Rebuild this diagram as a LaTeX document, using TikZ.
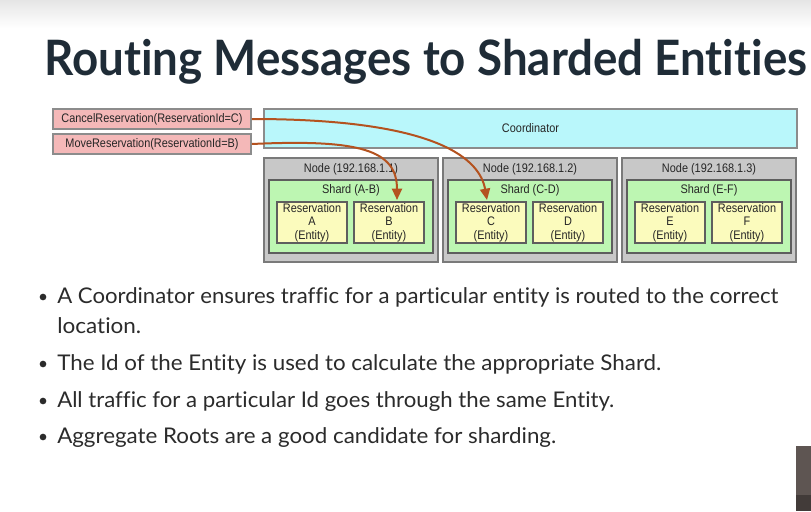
\documentclass[tikz,border=0pt]{standalone}
\usepackage{fontspec}
\setmainfont[Ligatures=NoCommon]{Lato}
\newfontfamily\diafont[FakeStretch=0.88]{Liberation Sans}
\usepackage{graphicx}
\usetikzlibrary{fit,calc,arrows.meta}
\definecolor{titlec}{HTML}{1F2C37}
\definecolor{bodyc}{HTML}{2B2B2B}
\definecolor{msgpink}{HTML}{F4B8B8}
\definecolor{msgline}{HTML}{8C8C8C}
\definecolor{coordfill}{HTML}{B9F7FB}
\definecolor{hostfill}{HTML}{C8C8C8}
\definecolor{hostline}{HTML}{7A7A7A}
\definecolor{shardfill}{HTML}{BDF6B2}
\definecolor{innerline}{HTML}{5E5E5E}
\definecolor{entfill}{HTML}{FBFBBD}
\definecolor{flowc}{HTML}{B4521F}
\definecolor{camc}{HTML}{5E5552}
\begin{document}
\begin{tikzpicture}[x=0.75pt,y=-0.75pt,
  msgbox/.style={draw=msgline, line width=1.3pt, fill=msgpink, inner sep=0pt},
  coordbox/.style={draw=msgline, line width=1.3pt, fill=coordfill, inner sep=0pt},
  hostbox/.style={draw=hostline, line width=1.6pt, fill=hostfill, inner sep=0pt},
  shardbox/.style={draw=innerline, line width=1.5pt, fill=shardfill, inner sep=0pt},
  entbox/.style={draw=innerline, line width=1.5pt, fill=entfill, inner sep=0pt},
  dtext/.style={font=\diafont\fontsize{9.3}{10}\selectfont, inner sep=0pt, text=black!85, align=center},
  flow/.style={draw=flowc, line width=1.5pt, -{Triangle[length=8.5pt,width=7.5pt]}},
  title/.style={anchor=base west, inner sep=0pt, text=titlec, font=\fontsize{36.6}{40}\selectfont\bfseries},
  bodyline/.style={anchor=base west, inner sep=0pt, text=bodyc, font=\fontsize{16.2}{20}\selectfont},
  dot/.style={circle, fill=bodyc, inner sep=0pt, minimum size=5pt}
]
% background
\fill[white] (0,0) rectangle (811,511);
\shade[top color=black!10, bottom color=white] (0,0) rectangle (811,28);
\fill[camc] (796,446) rectangle (811,511);
\fill[camc!70!black] (796,495) rectangle (811,511);

% title
\node[title] (ttl) at (44,75) {\resizebox{572.25pt}{\height}{Routing Messages to Sharded Entities}};

% messages and coordinator
\node[msgbox, fit={(53,109)(251,129)}] (cancel) {};
\node[dtext] (cancelt) at (cancel.center) {CancelReservation(ReservationId=C)};
\node[msgbox, fit={(53,134)(251,154)}] (move) {};
\node[dtext] (movet) at (move.center) {MoveReservation(ReservationId=B)};
\node[coordbox, fit={(264,109)(797,148)}] (coord) {};
\node[dtext] (coordt) at (coord.center) {Coordinator};

% hosts, shards, entities
\foreach \dx/\ip/\rng/\l/\r in {0/1/A-B/A/B, 179/2/C-D/C/D, 358/3/E-F/E/F}{
  \node[hostbox, fit={(264+\dx,158)(438+\dx,262)}] (host\ip) {};
  \node[dtext] (hostt\ip) at (351+\dx,169) {Node (192.168.1.\ip)};
  \node[shardbox, fit={(269+\dx,180)(433+\dx,253)}] (shard\ip) {};
  \node[dtext] (shardt\ip) at (351+\dx,190) {Shard (\rng)};
  \node[entbox, fit={(277+\dx,202)(347+\dx,243)}] (res\l) {};
  \node[dtext] (rest\l) at (res\l.center) {Reservation\\\l\\(Entity)};
  \node[entbox, fit={(354+\dx,202)(424+\dx,243)}] (res\r) {};
  \node[dtext] (rest\r) at (res\r.center) {Reservation\\\r\\(Entity)};
}

% routing arrows
\draw[flow] (cancel.east) .. controls (440,119) and (480,160) .. ($(resC.north)+(-4,-1)$);
\draw[flow] (move.east) .. controls (360,139) and (397,150) .. ($(resB.north)+(8,-1)$);

% bullets
\node[dot] (d1) at (43,297) {};
\node[bodyline] (b1) at (57,303) {\resizebox{540.75pt}{\height}{A Coordinator ensures traffic for a particular entity is routed to the correct}};
\node[bodyline] (b1b) at (57,333) {\resizebox{63pt}{\height}{location.}};
\node[dot] (d2) at (43,364) {};
\node[bodyline] (b2) at (57,370) {\resizebox{453pt}{\height}{The Id of the Entity is used to calculate the appropriate Shard.}};
\node[dot] (d3) at (43,401) {};
\node[bodyline] (b3) at (57,407) {\resizebox{417.75pt}{\height}{All traffic for a particular Id goes through the same Entity.}};
\node[dot] (d4) at (43,437) {};
\node[bodyline] (b4) at (57,443) {\resizebox{374.25pt}{\height}{Aggregate Roots are a good candidate for sharding.}};
\end{tikzpicture}
\end{document}
